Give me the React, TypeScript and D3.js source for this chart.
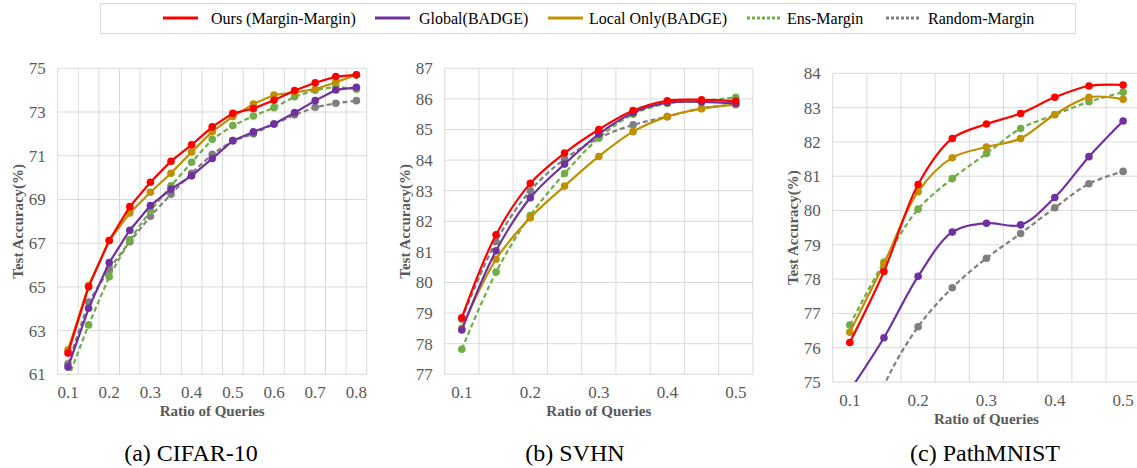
import { useEffect, useRef } from 'react';
import * as d3 from 'd3';

// x categories (Excel-style category axis, labels on every other one)
const ratiosCifar = ['0.1', '0.15', '0.2', '0.25', '0.3', '0.35', '0.4', '0.45', '0.5', '0.55', '0.6', '0.65', '0.7', '0.75', '0.8'];
const ratiosShort = ['0.1', '0.15', '0.2', '0.25', '0.3', '0.35', '0.4', '0.45', '0.5'];

const seriesNames = ['Ours (Margin-Margin)', 'Global(BADGE)', 'Local Only(BADGE)', 'Ens-Margin', 'Random-Margin'];

// (a) CIFAR-10
const cifarOurs = [61.97, 65.0, 67.12, 68.67, 69.79, 70.75, 71.5, 72.32, 72.94, 73.16, 73.54, 73.98, 74.34, 74.62, 74.7];
const cifarGlobal = [61.33, 64.02, 66.11, 67.59, 68.72, 69.47, 70.08, 70.87, 71.69, 72.09, 72.45, 72.97, 73.52, 74.01, 74.13];
const cifarLocal = [62.12, 65.06, 67.12, 68.38, 69.33, 70.2, 71.17, 72.1, 72.79, 73.37, 73.78, 73.9, 74.04, 74.36, 74.7];
const cifarEns = [60.8, 63.26, 65.46, 67.15, 68.48, 69.62, 70.7, 71.75, 72.38, 72.82, 73.2, 73.7, 74.0, 74.16, 74.04];
const cifarRandom = [61.48, 64.3, 65.81, 67.07, 68.23, 69.24, 70.2, 71.07, 71.69, 72.0, 72.45, 72.87, 73.22, 73.4, 73.52];

// (b) SVHN
const svhnOurs = [78.85, 81.56, 83.24, 84.23, 85.0, 85.62, 85.94, 85.97, 85.93];
const svhnGlobal = [78.45, 81.04, 82.77, 83.87, 84.85, 85.55, 85.88, 85.9, 85.85];
const svhnLocal = [78.5, 80.76, 82.12, 83.15, 84.12, 84.93, 85.42, 85.68, 85.81];
const svhnEns = [77.82, 80.34, 82.19, 83.56, 84.72, 85.5, 85.85, 85.93, 86.05];
const svhnRandom = [78.8, 81.34, 83.0, 84.03, 84.72, 85.15, 85.42, 85.69, 85.82];

// (c) PathMNIST
const pathOurs = [76.15, 78.22, 80.76, 82.1, 82.52, 82.83, 83.3, 83.63, 83.66];
const pathGlobal = [74.75, 76.29, 78.08, 79.37, 79.63, 79.58, 80.38, 81.57, 82.61];
const pathLocal = [76.45, 78.45, 80.55, 81.54, 81.85, 82.1, 82.8, 83.3, 83.24];
const pathEns = [76.66, 78.5, 80.04, 80.93, 81.66, 82.39, 82.79, 83.17, 83.45];
const pathRandom = [72.2, 74.9, 76.61, 77.75, 78.61, 79.33, 80.08, 80.78, 81.14];

const colors = ['#ff0000', '#7030a0', '#bf9000', '#70ad47', '#7f7f7f'];
const dashed = [false, false, false, true, true];

const serif = "'Liberation Serif', 'Times New Roman', Times, serif";
const axisGray = '#595959';

const panels = [
  {
    id: 'a', caption: '(a) CIFAR-10', captionX: 191, cats: ratiosCifar,
    series: [cifarOurs, cifarGlobal, cifarLocal, cifarEns, cifarRandom],
    yDomain: [61, 75], yStep: 2, left: 57.7, right: 366.7, top: 68.3, bottom: 374.3,
    yLabelX: 18, smooth: false,
  },
  {
    id: 'b', caption: '(b) SVHN', captionX: 575, cats: ratiosShort,
    series: [svhnOurs, svhnGlobal, svhnLocal, svhnEns, svhnRandom],
    yDomain: [77, 87], yStep: 1, left: 444.7, right: 752.9, top: 68.3, bottom: 374.3,
    yLabelX: 405, smooth: true,
  },
  {
    id: 'c', caption: '(c) PathMNIST', captionX: 985, cats: ratiosShort,
    series: [pathOurs, pathGlobal, pathLocal, pathEns, pathRandom],
    yDomain: [75, 84], yStep: 1, left: 832.7, right: 1140.2, top: 73.3, bottom: 382,
    yLabelX: 793, smooth: true,
  },
];

const legendLineX = [163, 375, 548, 747, 886];
const legendTextX = [211, 419, 589, 787, 928];

const App = () => {
  const svgRef = useRef<SVGSVGElement>(null);

  useEffect(() => {
    const svg = d3.select(svgRef.current);
    svg.selectAll('*').remove();

    // legend
    const legend = svg.append('g');
    legend.append('rect')
      .attr('x', 100.5).attr('y', 3.5).attr('width', 975).attr('height', 30)
      .attr('fill', '#fff').attr('stroke', '#d9d9d9');
    seriesNames.forEach((name, i) => {
      legend.append('line')
        .attr('x1', legendLineX[i]).attr('x2', legendLineX[i] + 35)
        .attr('y1', 18).attr('y2', 18)
        .attr('stroke', colors[i]).attr('stroke-width', 3)
        .attr('stroke-dasharray', dashed[i] ? '3,2' : null);
      legend.append('text')
        .attr('x', legendTextX[i]).attr('y', 23.5)
        .style('font-family', serif).style('font-size', '16px').attr('fill', '#000')
        .text(name);
    });

    panels.forEach(p => {
      const g = svg.append('g');
      const x = d3.scaleBand().domain(p.cats).range([p.left, p.right]);
      const y = d3.scaleLinear().domain(p.yDomain).range([p.bottom, p.top]);
      const yTicks = d3.range(p.yDomain[0], p.yDomain[1] + 0.001, p.yStep);

      // gridlines
      g.append('g').selectAll('line').data(yTicks).join('line')
        .attr('x1', p.left).attr('x2', p.right)
        .attr('y1', d => y(d)).attr('y2', d => y(d))
        .attr('stroke', '#d9d9d9').attr('stroke-width', 1);
      const bounds = p.cats.map(c => x(c) as number).concat([p.right]);
      g.append('g').selectAll('line').data(bounds).join('line')
        .attr('x1', d => d).attr('x2', d => d)
        .attr('y1', p.top).attr('y2', p.bottom)
        .attr('stroke', '#d9d9d9').attr('stroke-width', 1);

      // tick labels
      g.append('g').selectAll('text').data(yTicks).join('text')
        .attr('x', p.left - 12).attr('y', d => y(d))
        .attr('dy', '0.35em').attr('text-anchor', 'end')
        .style('font-family', serif).style('font-size', '17px').attr('fill', axisGray)
        .text(d => d);
      g.append('g').selectAll('text').data(p.cats.filter((_, i) => i % 2 === 0)).join('text')
        .attr('x', d => (x(d) as number) + x.bandwidth() / 2).attr('y', p.bottom + 18)
        .attr('dy', '0.35em').attr('text-anchor', 'middle')
        .style('font-family', serif).style('font-size', '17px').attr('fill', axisGray)
        .text(d => d);

      // axis titles
      g.append('text')
        .attr('transform', `translate(${p.yLabelX},${(p.top + p.bottom) / 2}) rotate(-90)`)
        .attr('dy', '0.35em').attr('text-anchor', 'middle')
        .style('font-family', serif).style('font-size', '15px').style('font-weight', 'bold')
        .attr('fill', axisGray).text('Test Accuracy(%)');
      g.append('text')
        .attr('x', (p.left + p.right) / 2).attr('y', p.bottom + 42)
        .attr('text-anchor', 'middle')
        .style('font-family', serif).style('font-size', '15px').style('font-weight', 'bold')
        .attr('fill', axisGray).text('Ratio of Queries');
      g.append('text')
        .attr('x', p.captionX).attr('y', 461)
        .attr('text-anchor', 'middle')
        .style('font-family', serif).style('font-size', '24px').attr('fill', '#000')
        .text(p.caption);

      // clipped data area
      svg.append('clipPath').attr('id', `clip-${p.id}`)
        .append('rect')
        .attr('x', p.left).attr('y', p.top)
        .attr('width', p.right - p.left).attr('height', p.bottom - p.top);
      const plot = g.append('g').attr('clip-path', `url(#clip-${p.id})`);

      const line = d3.line<number>()
        .x((_, i) => (x(p.cats[i]) as number) + x.bandwidth() / 2)
        .y(d => y(d))
        .curve(p.smooth ? d3.curveCatmullRom.alpha(0.5) : d3.curveLinear);

      // draw bottom-most first so "Ours" is on top
      [4, 3, 2, 1, 0].forEach(si => {
        const vals = p.series[si];
        plot.append('path')
          .datum(vals)
          .attr('fill', 'none')
          .attr('stroke', colors[si])
          .attr('stroke-width', 2.2)
          .attr('stroke-dasharray', dashed[si] ? '5,3' : null)
          .attr('d', line);
        plot.append('g').selectAll('circle').data(vals).join('circle')
          .attr('cx', (_, i) => (x(p.cats[i]) as number) + x.bandwidth() / 2)
          .attr('cy', d => y(d))
          .attr('r', 3.8)
          .attr('fill', colors[si]);
      });
    });
  }, []);

  return (
    <svg
      ref={svgRef}
      width={1137}
      height={468}
      style={{ position: 'absolute', left: 0, top: 0, background: '#fff' }}
    />
  );
};

export default App;
